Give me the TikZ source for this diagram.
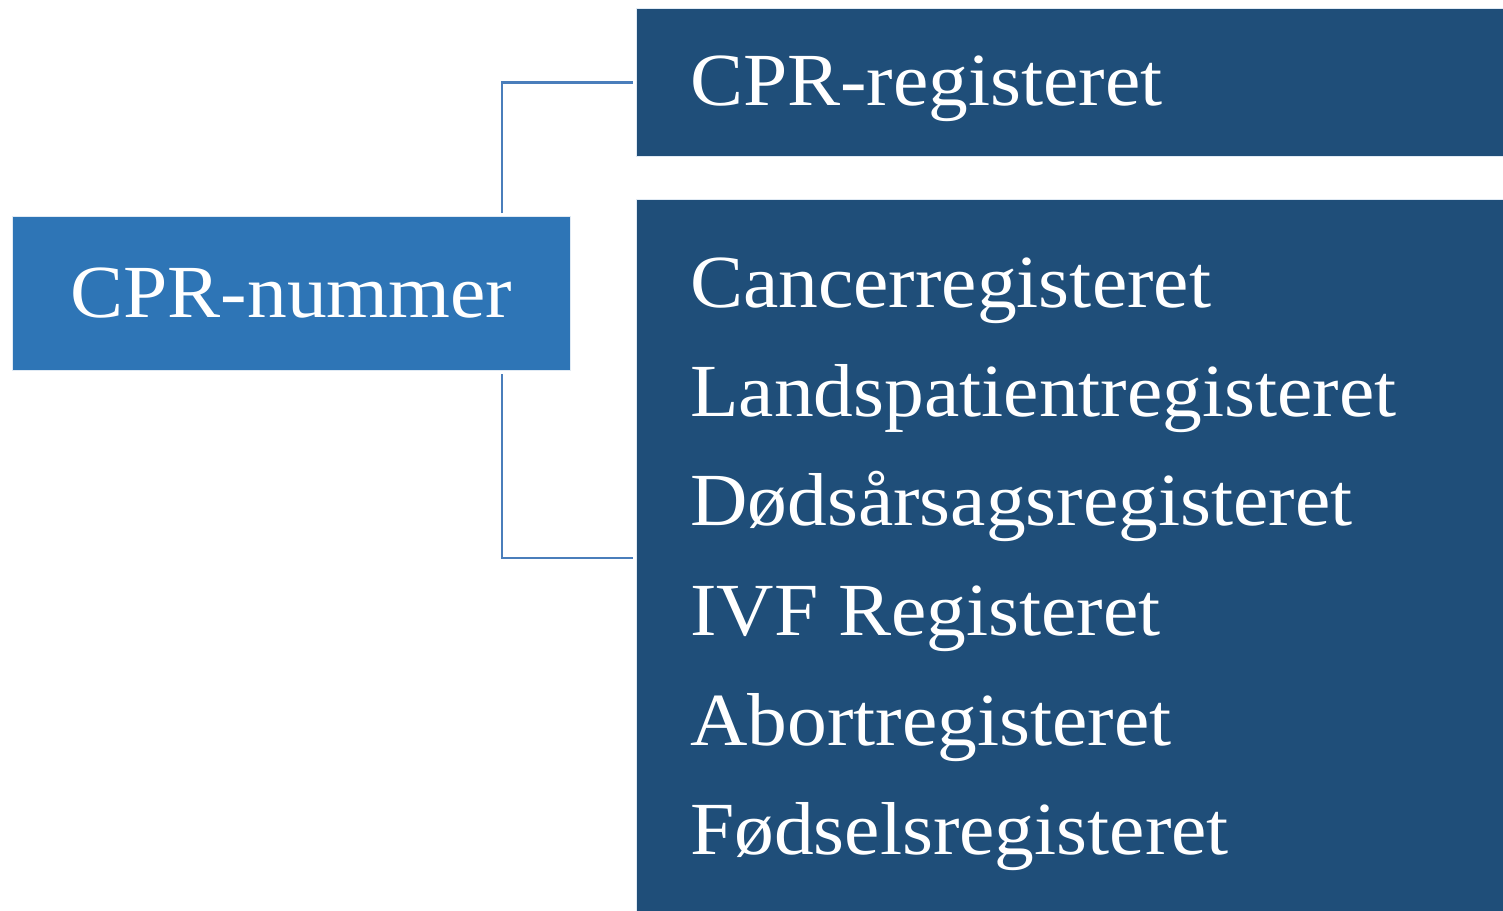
\documentclass[tikz,border=0pt]{standalone}
\usepackage{fontspec}
\setmainfont[FakeStretch=1.06]{Liberation Serif}
\definecolor{lightblue}{HTML}{2E75B6}
\definecolor{darkblue}{HTML}{1F4E79}
\definecolor{linkblue}{HTML}{4A7EBB}
\begin{document}
\begin{tikzpicture}[x=1pt,y=-1pt,
  boxstyle/.style={rectangle,draw=white!85!lightblue,line width=1pt,inner sep=0pt,anchor=north west},
  txt/.style={text=white,font=\fontsize{75}{90}\selectfont,inner sep=0pt},
  link/.style={draw=linkblue,line width=2.8pt}]
\useasboundingbox[fill=white] (0,0) rectangle (1503,910);
\node[boxstyle,fill=lightblue,minimum width=558pt,minimum height=154pt] (L) at (12,216) {};
\node[boxstyle,fill=darkblue,minimum width=870pt,minimum height=148pt] (T) at (636,8) {};
\node[boxstyle,fill=darkblue,minimum width=870pt,minimum height=714pt] (B) at (636,199) {};
\node[txt,anchor=base] (Lt) at (291.5,317) {CPR-nummer};
\node[txt,anchor=base west] (Tt) at (690,105) {CPR-registeret};
\node[txt,anchor=base west] (b1) at (690,307) {Cancerregisteret};
\node[txt,anchor=base west] (b2) at (690,416) {Landspatientregisteret};
\node[txt,anchor=base west] (b3) at (690,525) {Dødsårsagsregisteret};
\node[txt,anchor=base west] (b4) at (690,635) {IVF Registeret};
\node[txt,anchor=base west] (b5) at (690,745) {Abortregisteret};
\node[txt,anchor=base west] (b6) at (690,854) {Fødselsregisteret};
\draw[link] ([xshift=490pt,yshift=3pt]L.north west) |- ([xshift=-3pt]T.west);
\draw[link] ([xshift=490pt,yshift=-3pt]L.south west) |- ([xshift=-3pt,yshift=-1.5pt]B.west);
\end{tikzpicture}
\end{document}
